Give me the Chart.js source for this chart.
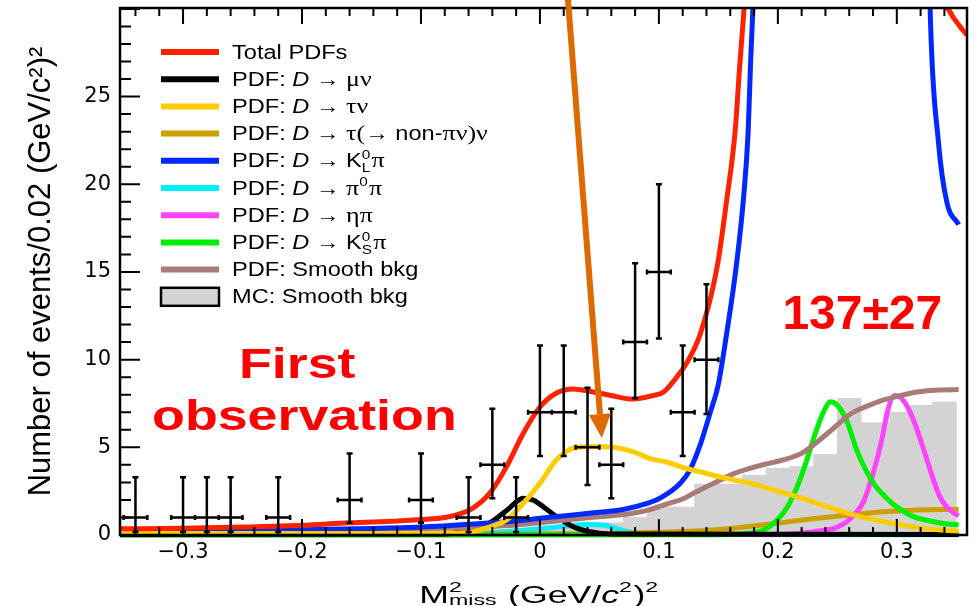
<!DOCTYPE html>
<html>
<head>
<meta charset="utf-8">
<script src="https://cdn.jsdelivr.net/npm/chart.js@4.4.1/dist/chart.umd.min.js"></script>
<style>
  html, body { margin: 0; padding: 0; background: #fff; }
</style>
</head>
<body>
<canvas id="c" width="979" height="606"></canvas>
<script>
// --- data ---
// measured points (bins of 0.02), with asymmetric (Poisson) error bars
const dataX  = [-0.34, -0.30, -0.28, -0.26, -0.22, -0.16, -0.10, -0.06, -0.04, -0.02, 0.00, 0.02, 0.04, 0.06, 0.08, 0.10, 0.12, 0.14];
const dataY  = [1, 1, 1, 1, 1, 2, 2, 1, 4, 1, 7, 7, 5, 4, 11, 15, 7, 10];
const dataLo = [0.17, 0.17, 0.17, 0.17, 0.17, 0.7, 0.7, 0.17, 2.1, 0.17, 4.5, 4.5, 2.85, 2.1, 7.8, 11.2, 4.5, 6.9];
const dataHi = [3.3, 3.3, 3.3, 3.3, 3.3, 4.65, 4.65, 3.3, 7.2, 3.3, 10.8, 10.8, 8.4, 7.2, 15.5, 20.0, 10.8, 14.3];

// MC smooth background histogram (bin centres)
const mcX = [-0.34, -0.32, -0.30, -0.28, -0.26, -0.24, -0.22, -0.20, -0.18, -0.16, -0.14, -0.12, -0.10, -0.08, -0.06, -0.04, -0.02,
             0.00, 0.02, 0.04, 0.06, 0.08, 0.10, 0.12, 0.14, 0.16, 0.18, 0.20, 0.22, 0.24, 0.26, 0.28, 0.30, 0.32, 0.34];
const mcY = [0.3, 0.3, 0.3, 0.3, 0.3, 0.3, 0.3, 0.3, 0.3, 0.3, 0.3, 0.3, 0.3, 0.3, 0.3, 0.3, 0.3,
             0.35, 0.4, 0.5, 0.7, 1.0, 1.6, 1.6, 2.9, 2.9, 3.4, 3.8, 3.9, 4.6, 7.8, 6.4, 7.0, 7.4, 7.6];

// fitted PDF curves
const totalX = [-0.353, -0.30, -0.25, -0.20, -0.16, -0.12, -0.10, -0.08, -0.07, -0.056, -0.042, -0.028, -0.014, 0.0, 0.014, 0.028, 0.042, 0.06, 0.078, 0.095, 0.104, 0.115, 0.125, 0.135, 0.149, 0.157, 0.164, 0.168, 0.1716, 0.176, 0.20, 0.33, 0.34, 0.345, 0.352, 0.359];
const totalY = [0.35, 0.38, 0.45, 0.55, 0.7, 0.8, 0.88, 1.0, 1.15, 1.55, 2.4, 3.9, 5.8, 7.3, 8.1, 8.33, 8.2, 7.95, 7.75, 7.95, 8.15, 9.0, 10.0, 11.5, 15.3, 19.1, 22.95, 26.8, 30, 34, 45, 45, 31, 29.8, 29.1, 28.5];

const muX = [-0.353, -0.08, -0.056, -0.042, -0.028, -0.014, -0.006, 0.0, 0.014, 0.028, 0.042, 0.06, 0.352];
const muY = [0.03, 0.05, 0.38, 0.7, 1.4, 2.1, 2.0, 1.75, 1.05, 0.47, 0.19, 0.05, 0.03];

const tauX = [-0.353, -0.10, -0.06, -0.042, -0.028, -0.014, 0.0, 0.014, 0.028, 0.042, 0.059, 0.078, 0.093, 0.107, 0.12, 0.135, 0.149, 0.163, 0.177, 0.19, 0.205, 0.22, 0.233, 0.247, 0.261, 0.275, 0.289, 0.303, 0.317, 0.335, 0.352];
const tauY = [0.08, 0.08, 0.15, 0.47, 0.86, 1.8, 2.95, 4.29, 4.95, 5.05, 5.02, 4.76, 4.35, 4.15, 3.85, 3.6, 3.35, 3.14, 2.95, 2.7, 2.4, 2.1, 1.81, 1.5, 1.2, 0.95, 0.76, 0.58, 0.42, 0.3, 0.22];

const tauNonX = [-0.353, 0.05, 0.10, 0.149, 0.205, 0.233, 0.261, 0.289, 0.317, 0.352];
const tauNonY = [0.05, 0.07, 0.15, 0.3, 0.72, 0.95, 1.16, 1.33, 1.43, 1.47];

const klX = [-0.353, -0.20, -0.10, -0.05, -0.02, 0.0, 0.03, 0.05, 0.07, 0.09, 0.101, 0.118, 0.126, 0.135, 0.143, 0.150, 0.157, 0.165, 0.171, 0.175, 0.177, 0.179, 0.182, 0.20, 0.32, 0.328, 0.335, 0.342, 0.352];
const klY = [0.25, 0.3, 0.45, 0.65, 0.8, 0.95, 1.15, 1.3, 1.45, 1.8, 2.1, 2.95, 3.7, 5.2, 6.95, 8.6, 11.5, 15.3, 19.1, 22.95, 26.8, 30, 34, 60, 60, 30, 22.4, 19, 17.7];

const pi0X = [-0.353, -0.06, -0.03, -0.01, 0.0, 0.02, 0.04, 0.055, 0.065, 0.08, 0.10, 0.352];
const pi0Y = [0.02, 0.05, 0.2, 0.3, 0.35, 0.5, 0.6, 0.55, 0.35, 0.1, 0.03, 0.02];

const etaX = [-0.353, 0.20, 0.23, 0.25, 0.262, 0.272, 0.28, 0.287, 0.292, 0.298, 0.303, 0.309, 0.316, 0.322, 0.33, 0.336, 0.342, 0.348, 0.352];
const etaY = [0.0, 0.03, 0.19, 0.45, 1.0, 1.9, 3.5, 5.3, 7.0, 7.95, 7.85, 7.3, 6.2, 5.0, 3.3, 2.2, 1.6, 1.25, 1.1];

const ksX = [-0.353, 0.15, 0.175, 0.19, 0.20, 0.208, 0.216, 0.224, 0.232, 0.239, 0.244, 0.25, 0.258, 0.266, 0.274, 0.282, 0.29, 0.30, 0.314, 0.328, 0.342, 0.352];
const ksY = [0.0, 0.02, 0.1, 0.35, 0.9, 1.6, 2.7, 4.2, 5.9, 7.1, 7.6, 7.4, 6.5, 4.9, 3.7, 2.8, 2.2, 1.6, 1.05, 0.8, 0.63, 0.58];

const bkgX = [-0.353, -0.15, -0.076, -0.02, 0.036, 0.078, 0.0925, 0.107, 0.12, 0.129, 0.149, 0.163, 0.177, 0.19, 0.205, 0.221, 0.233, 0.247, 0.261, 0.275, 0.289, 0.303, 0.317, 0.335, 0.352];
const bkgY = [0.3, 0.32, 0.4, 0.57, 0.95, 1.24, 1.45, 1.78, 2.05, 2.38, 3.05, 3.5, 3.81, 4.05, 4.29, 4.7, 5.3, 6.1, 6.9, 7.35, 7.7, 7.95, 8.15, 8.27, 8.29];

// legend labels (rich text: i = italic, g = greek, sup/sub)
const legendText = [
  [{t: 'Total PDFs'}],
  [{t: 'PDF: '}, {t: 'D', i: 1}, {t: ' → '}, {t: 'μν', g: 1}],
  [{t: 'PDF: '}, {t: 'D', i: 1}, {t: ' → '}, {t: 'τν', g: 1}],
  [{t: 'PDF: '}, {t: 'D', i: 1}, {t: ' → '}, {t: 'τ(', g: 1}, {t: '→ non-'}, {t: 'πν', g: 1}, {t: ')ν', g: 1}],
  [{t: 'PDF: '}, {t: 'D', i: 1}, {t: ' → K'}, {sup: '0', sub: 'L'}, {t: 'π', g: 1}],
  [{t: 'PDF: '}, {t: 'D', i: 1}, {t: ' → '}, {t: 'π', g: 1}, {sup: '0'}, {t: 'π', g: 1}],
  [{t: 'PDF: '}, {t: 'D', i: 1}, {t: ' → '}, {t: 'ηπ', g: 1}],
  [{t: 'PDF: '}, {t: 'D', i: 1}, {t: ' → K'}, {sup: '0', sub: 'S'}, {t: 'π', g: 1}],
  [{t: 'PDF: Smooth bkg'}],
  [{t: 'MC: Smooth bkg'}]
];
const xTitle = [{t: 'M'}, {sup: '2', sub: 'miss'}, {t: ' (GeV/'}, {t: 'c', i: 1}, {sup: '2'}, {t: ')'}, {sup: '2'}];

const SANS = '"Liberation Sans", Arial, sans-serif';
const SERIF = '"Liberation Serif", "Times New Roman", serif';
const TICKS = '"DejaVu Sans", sans-serif';

const pts = (xs, ys) => xs.map((x, i) => ({x, y: ys[i]}));
const plain = segs => segs.map(s => s.t || ((s.sup || '') + (s.sub || ''))).join('');

function curve(i, xs, ys, color, order) {
  return {
    type: 'line', label: plain(legendText[i]), data: pts(xs, ys),
    borderColor: color, backgroundColor: color, borderWidth: 5,
    pointRadius: 0, cubicInterpolationMode: 'monotone', tension: 0.4,
    fill: false, order, clip: {left: 0, top: 0, right: 0, bottom: 6}
  };
}

const datasets = [
  {type: 'line', label: 'Data', data: pts(dataX, dataY), showLine: false, pointRadius: 0, order: -1},
  curve(0, totalX, totalY, '#ff2200', 0),
  curve(1, muX, muY, '#000000', 4),
  curve(2, tauX, tauY, '#ffcc00', 1),
  curve(3, tauNonX, tauNonY, '#cc9f00', 7),
  curve(4, klX, klY, '#0028ff', 2),
  curve(5, pi0X, pi0Y, '#00f0ff', 8),
  curve(6, etaX, etaY, '#ff44ff', 6),
  curve(7, ksX, ksY, '#00ee00', 5),
  curve(8, bkgX, bkgY, '#a87a78', 3),
  {type: 'bar', label: plain(legendText[9]), data: pts(mcX, mcY), backgroundColor: '#d3d3d3',
   borderWidth: 0, barPercentage: 1, categoryPercentage: 1, order: 9}
];

// rich text: sup/sub offsets given as fractions of the font size
function runText(ctx, segs, size, draw, supDy, subDy) {
  let cx = 0;
  for (const s of segs) {
    if (s.sup != null || s.sub != null) {
      ctx.font = `${size * 0.65}px ${SANS}`;
      let w = 0;
      if (s.sup != null) { if (draw) ctx.fillText(s.sup, cx, -size * supDy); w = Math.max(w, ctx.measureText(s.sup).width); }
      if (s.sub != null) { if (draw) ctx.fillText(s.sub, cx, size * subDy); w = Math.max(w, ctx.measureText(s.sub).width); }
      cx += w + 1;
    } else {
      const sz = s.g ? size * 1.1 : size;
      ctx.font = `${s.i ? 'italic ' : ''}${sz}px ${s.g ? SERIF : SANS}`;
      if (draw) ctx.fillText(s.t, cx, 0);
      cx += ctx.measureText(s.t).width;
    }
  }
  return cx;
}

function drawRich(ctx, segs, x, y, size, sx, center, supDy = 0.42, subDy = 0.24) {
  ctx.save();
  ctx.textAlign = 'left';
  ctx.textBaseline = 'alphabetic';
  const w = runText(ctx, segs, size, false, supDy, subDy) * sx;
  ctx.translate(center ? x - w / 2 : x, y);
  ctx.scale(sx, 1);
  runText(ctx, segs, size, true, supDy, subDy);
  ctx.restore();
}

function stretchedText(ctx, text, x, y, font, sx, color) {
  ctx.save();
  ctx.font = font;
  ctx.fillStyle = color;
  ctx.textAlign = 'center';
  ctx.textBaseline = 'alphabetic';
  ctx.translate(x, y);
  ctx.scale(sx, 1);
  ctx.fillText(text, 0, 0);
  ctx.restore();
}

// error bars on the data points
const errorBars = {
  id: 'errorBars',
  afterDatasetsDraw(chart) {
    const {ctx, scales: {x, y}} = chart;
    ctx.save();
    ctx.strokeStyle = '#000';
    ctx.lineWidth = 2.5;
    ctx.beginPath();
    dataX.forEach((v, i) => {
      const px = x.getPixelForValue(v);
      const py = y.getPixelForValue(dataY[i]);
      const pl = y.getPixelForValue(dataLo[i]);
      const ph = y.getPixelForValue(dataHi[i]);
      const xl = x.getPixelForValue(v - 0.01);
      const xr = x.getPixelForValue(v + 0.01);
      ctx.moveTo(px, pl); ctx.lineTo(px, ph);
      ctx.moveTo(px - 3, ph); ctx.lineTo(px + 3, ph);
      ctx.moveTo(px - 3, pl); ctx.lineTo(px + 3, pl);
      ctx.moveTo(xl, py); ctx.lineTo(xr, py);
      ctx.moveTo(xl, py - 2.5); ctx.lineTo(xl, py + 2.5);
      ctx.moveTo(xr, py - 2.5); ctx.lineTo(xr, py + 2.5);
    });
    ctx.stroke();
    ctx.restore();
  }
};

// frame, inward ticks, legend, annotations
const decorations = {
  id: 'decorations',
  afterDraw(chart) {
    const {ctx, chartArea: a, scales: {x, y}} = chart;
    ctx.save();
    ctx.strokeStyle = '#000';
    ctx.lineWidth = 2;
    ctx.beginPath();
    x.ticks.forEach(t => {
      const px = x.getPixelForValue(t.value);
      const len = Math.round(t.value * 100) % 10 === 0 ? 16 : 8;
      ctx.moveTo(px, a.bottom); ctx.lineTo(px, a.bottom - len);
      ctx.moveTo(px, a.top); ctx.lineTo(px, a.top + len);
    });
    y.ticks.forEach(t => {
      const py = y.getPixelForValue(t.value);
      const len = t.value % 5 === 0 ? 20 : 11;
      ctx.moveTo(a.left, py); ctx.lineTo(a.left + len, py);
    });
    ctx.stroke();
    ctx.lineWidth = 2.5;
    ctx.strokeRect(a.left, a.top, a.right - a.left, a.bottom - a.top);

    // legend
    const lx0 = a.left + 41, lx1 = a.left + 99, tx = a.left + 112;
    const legendColors = datasets.slice(1, 10).map(d => d.borderColor);
    legendText.forEach((segs, i) => {
      const ly = a.top + 44 + i * 27.2;
      if (i < legendColors.length) {
        ctx.strokeStyle = legendColors[i];
        ctx.lineWidth = 6;
        ctx.beginPath();
        ctx.moveTo(lx0, ly); ctx.lineTo(lx1, ly);
        ctx.stroke();
      } else {
        ctx.fillStyle = '#d3d3d3';
        ctx.fillRect(lx0, ly - 9, lx1 - lx0, 18);
        ctx.strokeStyle = '#000';
        ctx.lineWidth = 2.5;
        ctx.strokeRect(lx0, ly - 9, lx1 - lx0, 18);
      }
      ctx.fillStyle = '#000';
      drawRich(ctx, segs, tx, ly + 6.5, 20, 1.18, false);
    });

    // x axis title
    ctx.fillStyle = '#000';
    drawRich(ctx, xTitle, (a.left + a.right) / 2 - 4, 603, 23, 1.55, true, 0.5, 0.08);

    // annotations
    stretchedText(ctx, 'First', x.getPixelForValue(-0.204), y.getPixelForValue(8.96), `bold 43px ${SANS}`, 1.25, '#ff0000');
    stretchedText(ctx, 'observation', x.getPixelForValue(-0.198), y.getPixelForValue(5.99), `bold 43px ${SANS}`, 1.25, '#ff0000');
    stretchedText(ctx, '137±27', x.getPixelForValue(0.271), y.getPixelForValue(11.73), `bold 48px ${SANS}`, 1.0, '#ff0000');

    // arrow
    const x0 = x.getPixelForValue(0.0235), y0 = y.getPixelForValue(30.6);
    const x1 = x.getPixelForValue(0.052), y1 = y.getPixelForValue(5.53);
    const ang = Math.atan2(y1 - y0, x1 - x0);
    const hl = 24, hw = 11;
    const bx = x1 - hl * Math.cos(ang), by = y1 - hl * Math.sin(ang);
    ctx.strokeStyle = '#dc6a00';
    ctx.fillStyle = '#dc6a00';
    ctx.lineWidth = 6;
    ctx.beginPath();
    ctx.moveTo(x0, y0); ctx.lineTo(bx, by);
    ctx.stroke();
    ctx.beginPath();
    ctx.moveTo(x1, y1);
    ctx.lineTo(bx + hw * Math.sin(ang), by - hw * Math.cos(ang));
    ctx.lineTo(bx - hw * Math.sin(ang), by + hw * Math.cos(ang));
    ctx.closePath();
    ctx.fill();
    ctx.restore();
  }
};

function fmtX(v) {
  const k = Math.round(v * 100);
  if (k % 10 !== 0) return '';
  if (k === 0) return '0';
  return (k < 0 ? '−' : '') + (Math.abs(k) / 100);
}

new Chart(document.getElementById('c'), {
  type: 'line',
  data: { datasets },
  options: {
    responsive: false,
    animation: false,
    devicePixelRatio: 1,
    layout: { padding: { top: 8, right: 12, left: 0, bottom: 0 } },
    plugins: { legend: { display: false }, tooltip: { enabled: false } },
    scales: {
      x: {
        type: 'linear', min: -0.353, max: 0.359, offset: false,
        grid: { display: false, drawTicks: false }, border: { display: false },
        ticks: {
          stepSize: 0.02, autoSkip: false, includeBounds: false, maxRotation: 0, minRotation: 0,
          padding: 5, color: '#000', font: { family: TICKS, size: 21 }, callback: fmtX
        },
        afterFit: s => { s.height = 71; s.paddingLeft = 0; s.paddingRight = 0; }
      },
      y: {
        type: 'linear', min: 0, max: 30.05,
        grid: { display: false, drawTicks: false }, border: { display: false },
        ticks: {
          stepSize: 1, autoSkip: false, includeBounds: false, padding: 9, color: '#000',
          font: { family: TICKS, size: 21 },
          callback: v => (v % 5 === 0 && v < 30) ? String(v) : ''
        },
        title: {
          display: true, text: 'Number of events/0.02 (GeV/c²)²', color: '#000',
          font: { family: SANS, size: 31 }, padding: { top: 23, bottom: 0 }
        },
        afterFit: s => { s.width = 120; s.paddingTop = 0; s.paddingBottom = 0; }
      }
    }
  },
  plugins: [errorBars, decorations]
});
</script>
</body>
</html>
